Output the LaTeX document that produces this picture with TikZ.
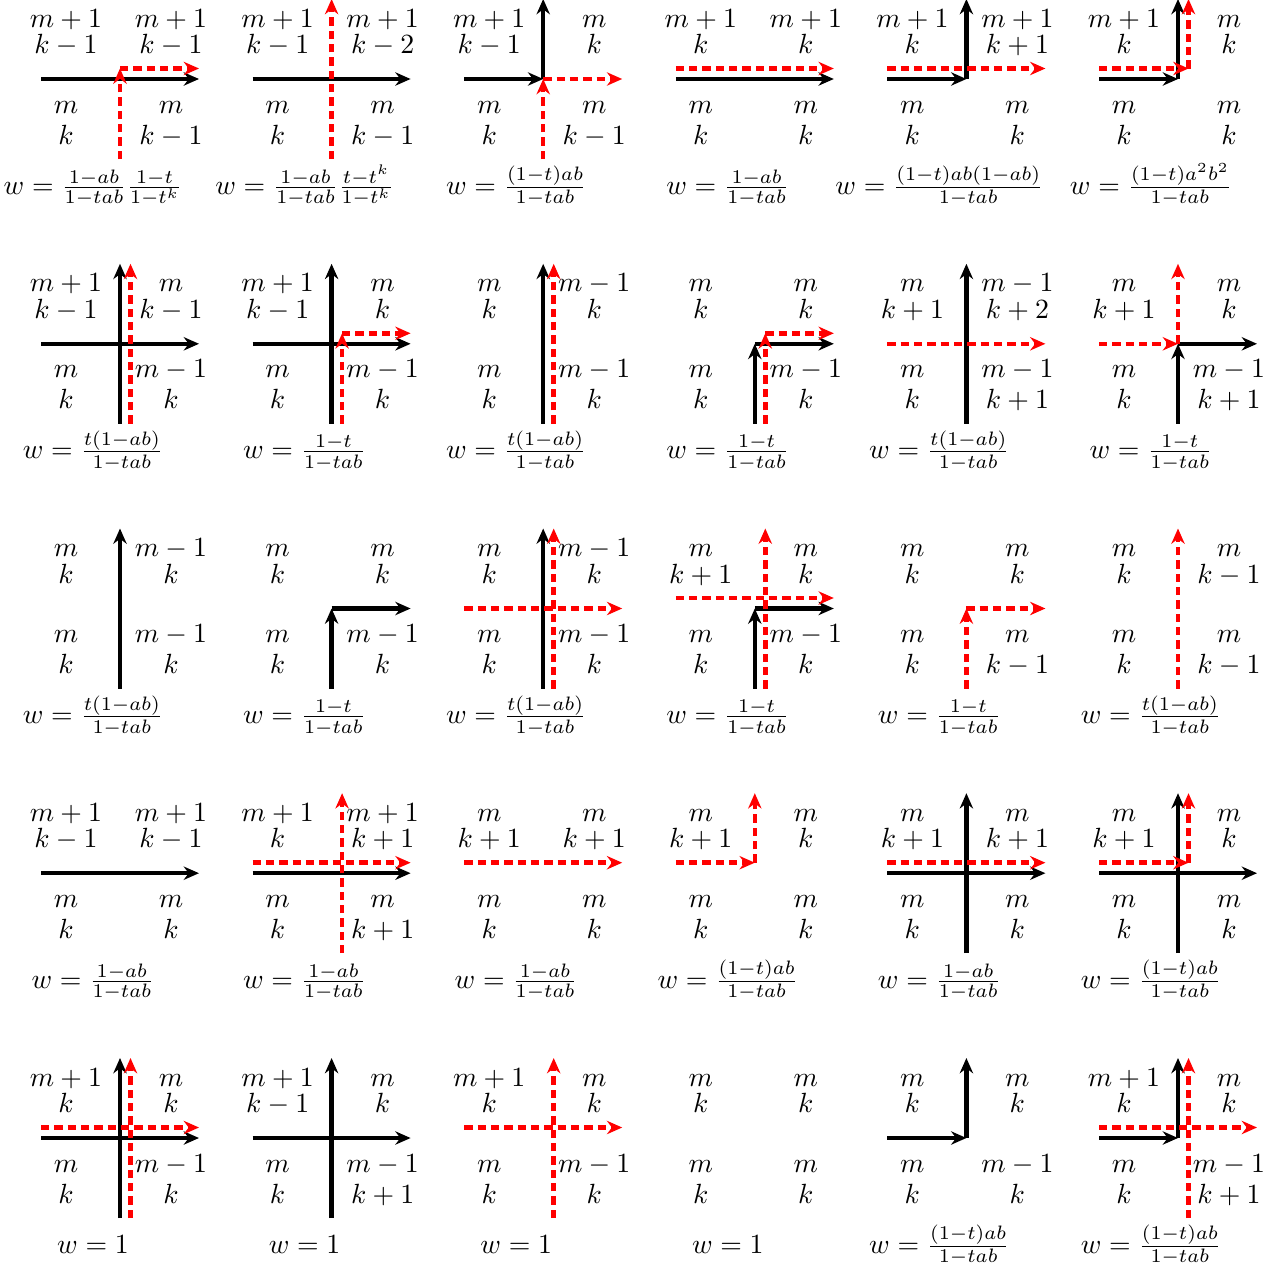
\documentclass[tikz,border=0pt]{standalone}
\usetikzlibrary{arrows.meta}
\tikzset{
  tipst/.style={-{Stealth[length=5.5pt,width=4.8pt,inset=1.8pt]}},
  blk/.style={black, line width=1.6pt, tipst},
  rdl/.style={red, line width=1.6pt, dash pattern=on 3pt off 1.8pt, tipst},
  lab/.style={anchor=base, inner sep=0pt},
}
\newcommand\pts{%
  \coordinate (L) at (-79,0); \coordinate (R) at (79,0);
  \coordinate (B) at (0,80);  \coordinate (T) at (0,-80);
  \coordinate (O) at (0,0);
  \coordinate (rL) at (-79,-10.5); \coordinate (rR) at (79,-10.5);
  \coordinate (rB) at (10.5,80);   \coordinate (rT) at (10.5,-80);
  \coordinate (rC) at (10.5,-10.5); \coordinate (rCh) at (0,-10.5);
}
\newcommand\labs[8]{%
  \node[lab] (tla) at (-54,-52) {$#1$};
  \node[lab] (tlb) at (-54,-25.5) {$#2$};
  \node[lab] (tra) at (51,-52) {$#3$};
  \node[lab] (trb) at (51,-25.5) {$#4$};
  \node[lab] (bla) at (-54,34) {$#5$};
  \node[lab] (blb) at (-54,65) {$#6$};
  \node[lab] (bra) at (51,34) {$#7$};
  \node[lab] (brb) at (51,65) {$#8$};
}
\newcommand\wt[1]{\node[lab] (wt) at (-27,115) {$w = #1$};}
\newcommand\cellat[3]{\begin{scope}[shift={(#1,#2)}]\pts #3\end{scope}}
\begin{document}
\begin{tikzpicture}[x=0.36pt,y=-0.36pt]
\useasboundingbox (0,0) rectangle (1280,1272);
% ---------- row 1 ----------
\cellat{120}{79}{\labs{m+1}{k-1}{m+1}{k-1}{m}{k}{m}{k-1}
  \draw[blk] (L) -- (R);
  \draw[rdl] (B) -- (rCh); \draw[rdl] (rCh) -- (rR);
  \wt{\frac{1-ab}{1-tab}\frac{1-t}{1-t^k}}}
\cellat{331.6}{79}{\labs{m+1}{k-1}{m+1}{k-2}{m}{k}{m}{k-1}
  \draw[blk] (L) -- (R);
  \draw[rdl] (B) -- (T);
  \wt{\frac{1-ab}{1-tab}\frac{t-t^k}{1-t^k}}}
\cellat{543.2}{79}{\labs{m+1}{k-1}{m}{k}{m}{k}{m}{k-1}
  \draw[blk] (L) -- (O); \draw[blk] (O) -- (T);
  \draw[rdl] (B) -- (O); \draw[rdl] (O) -- (R);
  \wt{\frac{(1-t)ab}{1-tab}}}
\cellat{754.8}{79}{\labs{m+1}{k}{m+1}{k}{m}{k}{m}{k}
  \draw[blk] (L) -- (R);
  \draw[rdl] (rL) -- (rR);
  \wt{\frac{1-ab}{1-tab}}}
\cellat{966.4}{79}{\labs{m+1}{k}{m+1}{k+1}{m}{k}{m}{k}
  \draw[blk] (L) -- (O); \draw[blk] (O) -- (T);
  \draw[rdl] (rL) -- (rR);
  \wt{\frac{(1-t)ab(1-ab)}{1-tab}}}
\cellat{1178}{79}{\labs{m+1}{k}{m}{k}{m}{k}{m}{k}
  \draw[blk] (L) -- (O); \draw[blk] (O) -- (T);
  \draw[rdl] (rL) -- (rC); \draw[rdl] (rC) -- (rT);
  \wt{\frac{(1-t)a^2b^2}{1-tab}}}
% ---------- row 2 ----------
\cellat{120}{343.8}{\labs{m+1}{k-1}{m}{k-1}{m}{k}{m-1}{k}
  \draw[blk] (L) -- (R); \draw[blk] (B) -- (T);
  \draw[rdl] (rB) -- (rT);
  \wt{\frac{t(1-ab)}{1-tab}}}
\cellat{331.6}{343.8}{\labs{m+1}{k-1}{m}{k}{m}{k}{m-1}{k}
  \draw[blk] (L) -- (R); \draw[blk] (B) -- (T);
  \draw[rdl] (rB) -- (rC); \draw[rdl] (rC) -- (rR);
  \wt{\frac{1-t}{1-tab}}}
\cellat{543.2}{343.8}{\labs{m}{k}{m-1}{k}{m}{k}{m-1}{k}
  \draw[blk] (B) -- (T);
  \draw[rdl] (rB) -- (rT);
  \wt{\frac{t(1-ab)}{1-tab}}}
\cellat{754.8}{343.8}{\labs{m}{k}{m}{k}{m}{k}{m-1}{k}
  \draw[blk] (B) -- (O); \draw[blk] (O) -- (R);
  \draw[rdl] (rB) -- (rC); \draw[rdl] (rC) -- (rR);
  \wt{\frac{1-t}{1-tab}}}
\cellat{966.4}{343.8}{\labs{m}{k+1}{m-1}{k+2}{m}{k}{m-1}{k+1}
  \draw[blk] (B) -- (T);
  \draw[rdl] (L) -- (R);
  \wt{\frac{t(1-ab)}{1-tab}}}
\cellat{1178}{343.8}{\labs{m}{k+1}{m}{k}{m}{k}{m-1}{k+1}
  \draw[blk] (B) -- (O); \draw[blk] (O) -- (R);
  \draw[rdl] (L) -- (O); \draw[rdl] (O) -- (T);
  \wt{\frac{1-t}{1-tab}}}
% ---------- row 3 ----------
\cellat{120}{608.5}{\labs{m}{k}{m-1}{k}{m}{k}{m-1}{k}
  \draw[blk] (B) -- (T);
  \wt{\frac{t(1-ab)}{1-tab}}}
\cellat{331.6}{608.5}{\labs{m}{k}{m}{k}{m}{k}{m-1}{k}
  \draw[blk] (B) -- (O); \draw[blk] (O) -- (R);
  \wt{\frac{1-t}{1-tab}}}
\cellat{543.2}{608.5}{\labs{m}{k}{m-1}{k}{m}{k}{m-1}{k}
  \draw[blk] (B) -- (T);
  \draw[rdl] (L) -- (R); \draw[rdl] (rB) -- (rT);
  \wt{\frac{t(1-ab)}{1-tab}}}
\cellat{754.8}{608.5}{\labs{m}{k+1}{m}{k}{m}{k}{m-1}{k}
  \draw[blk] (B) -- (O); \draw[blk] (O) -- (R);
  \draw[rdl] (rL) -- (rR); \draw[rdl] (rB) -- (rT);
  \wt{\frac{1-t}{1-tab}}}
\cellat{966.4}{608.5}{\labs{m}{k}{m}{k}{m}{k}{m}{k-1}
  \draw[rdl] (B) -- (O); \draw[rdl] (O) -- (R);
  \wt{\frac{1-t}{1-tab}}}
\cellat{1178}{608.5}{\labs{m}{k}{m}{k-1}{m}{k}{m}{k-1}
  \draw[rdl] (B) -- (T);
  \wt{\frac{t(1-ab)}{1-tab}}}
% ---------- row 4 ----------
\cellat{120}{873.2}{\labs{m+1}{k-1}{m+1}{k-1}{m}{k}{m}{k}
  \draw[blk] (L) -- (R);
  \wt{\frac{1-ab}{1-tab}}}
\cellat{331.6}{873.2}{\labs{m+1}{k}{m+1}{k+1}{m}{k}{m}{k+1}
  \draw[blk] (L) -- (R);
  \draw[rdl] (rL) -- (rR); \draw[rdl] (rB) -- (rT);
  \wt{\frac{1-ab}{1-tab}}}
\cellat{543.2}{873.2}{\labs{m}{k+1}{m}{k+1}{m}{k}{m}{k}
  \draw[rdl] (rL) -- (rR);
  \wt{\frac{1-ab}{1-tab}}}
\cellat{754.8}{873.2}{\labs{m}{k+1}{m}{k}{m}{k}{m}{k}
  \draw[rdl] (rL) -- (rCh); \draw[rdl] (rCh) -- (T);
  \wt{\frac{(1-t)ab}{1-tab}}}
\cellat{966.4}{873.2}{\labs{m}{k+1}{m}{k+1}{m}{k}{m}{k}
  \draw[blk] (L) -- (R); \draw[blk] (B) -- (T);
  \draw[rdl] (rL) -- (rR);
  \wt{\frac{1-ab}{1-tab}}}
\cellat{1178}{873.2}{\labs{m}{k+1}{m}{k}{m}{k}{m}{k}
  \draw[blk] (L) -- (R); \draw[blk] (B) -- (T);
  \draw[rdl] (rL) -- (rC); \draw[rdl] (rC) -- (rT);
  \wt{\frac{(1-t)ab}{1-tab}}}
% ---------- row 5 ----------
\cellat{120}{1138}{\labs{m+1}{k}{m}{k}{m}{k}{m-1}{k}
  \draw[blk] (L) -- (R); \draw[blk] (B) -- (T);
  \draw[rdl] (rL) -- (rR); \draw[rdl] (rB) -- (rT);
  \wt{1}}
\cellat{331.6}{1138}{\labs{m+1}{k-1}{m}{k}{m}{k}{m-1}{k+1}
  \draw[blk] (L) -- (R); \draw[blk] (B) -- (T);
  \wt{1}}
\cellat{543.2}{1138}{\labs{m+1}{k}{m}{k}{m}{k}{m-1}{k}
  \draw[rdl] (rL) -- (rR); \draw[rdl] (rB) -- (rT);
  \wt{1}}
\cellat{754.8}{1138}{\labs{m}{k}{m}{k}{m}{k}{m}{k}
  \wt{1}}
\cellat{966.4}{1138}{\labs{m}{k}{m}{k}{m}{k}{m-1}{k}
  \draw[blk] (L) -- (O); \draw[blk] (O) -- (T);
  \wt{\frac{(1-t)ab}{1-tab}}}
\cellat{1178}{1138}{\labs{m+1}{k}{m}{k}{m}{k}{m-1}{k+1}
  \draw[blk] (L) -- (O); \draw[blk] (O) -- (T);
  \draw[rdl] (rL) -- (rR); \draw[rdl] (rB) -- (rT);
  \wt{\frac{(1-t)ab}{1-tab}}}
\end{tikzpicture}
\end{document}
